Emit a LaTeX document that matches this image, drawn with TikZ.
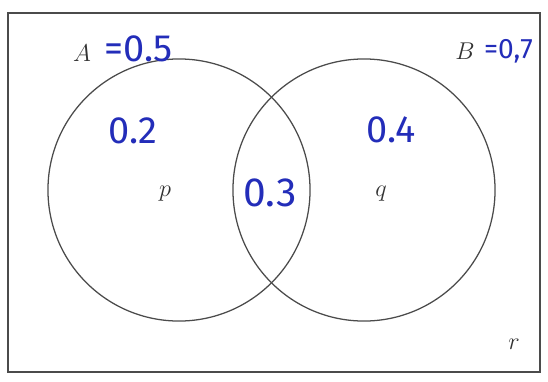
\documentclass[tikz,border=0pt]{standalone}
\usepackage{fontspec}
\newfontfamily\handfont{Fira Sans}
\usetikzlibrary{positioning}
\definecolor{ink}{RGB}{35,45,185}
\definecolor{pencil}{RGB}{75,75,75}

\begin{document}
\begin{tikzpicture}[x=0.025cm, y=-0.025cm,
    set/.style = {draw=pencil, circle, line width=0.9pt, inner sep=0pt, minimum size=6.55cm},
    lbl/.style = {font=\fontsize{17}{20}\selectfont\itshape, text=black!80},
    hand/.style = {font=\handfont\fontsize{27}{30}\selectfont, text=ink, inner sep=0pt}]
    \useasboundingbox (0,0) rectangle (548,382);
    \draw[pencil, line width=0.9pt] (8,13) rectangle (540,372);

    \node[set] (SA) at (179,190) {};
    \node[set] (SB) at (364,190) {};

    \node[lbl] (A) at (82,53) {$A$};
    \node[lbl] (B) at (465,51) {$B$};
    \node[lbl] (p) at (165,194) {$p$};
    \node[lbl] (q) at (381,194) {$q$};
    \node[lbl] (r) at (514,344) {$r$};

    % handwritten values
    \node[hand, right=6pt of A, yshift=3pt] (PA) {=0.5};
    \node[hand, right=3pt of B, font=\handfont\fontsize{20}{24}\selectfont] (PB) {=0,7};
    \node[hand] (nA) at (133,131) {0.2};
    \node[hand, font=\handfont\fontsize{29}{32}\selectfont] (nAB) at (270,193) {0.3};
    \node[hand] (nB) at (391,130) {0.4};
\end{tikzpicture}
\end{document}
